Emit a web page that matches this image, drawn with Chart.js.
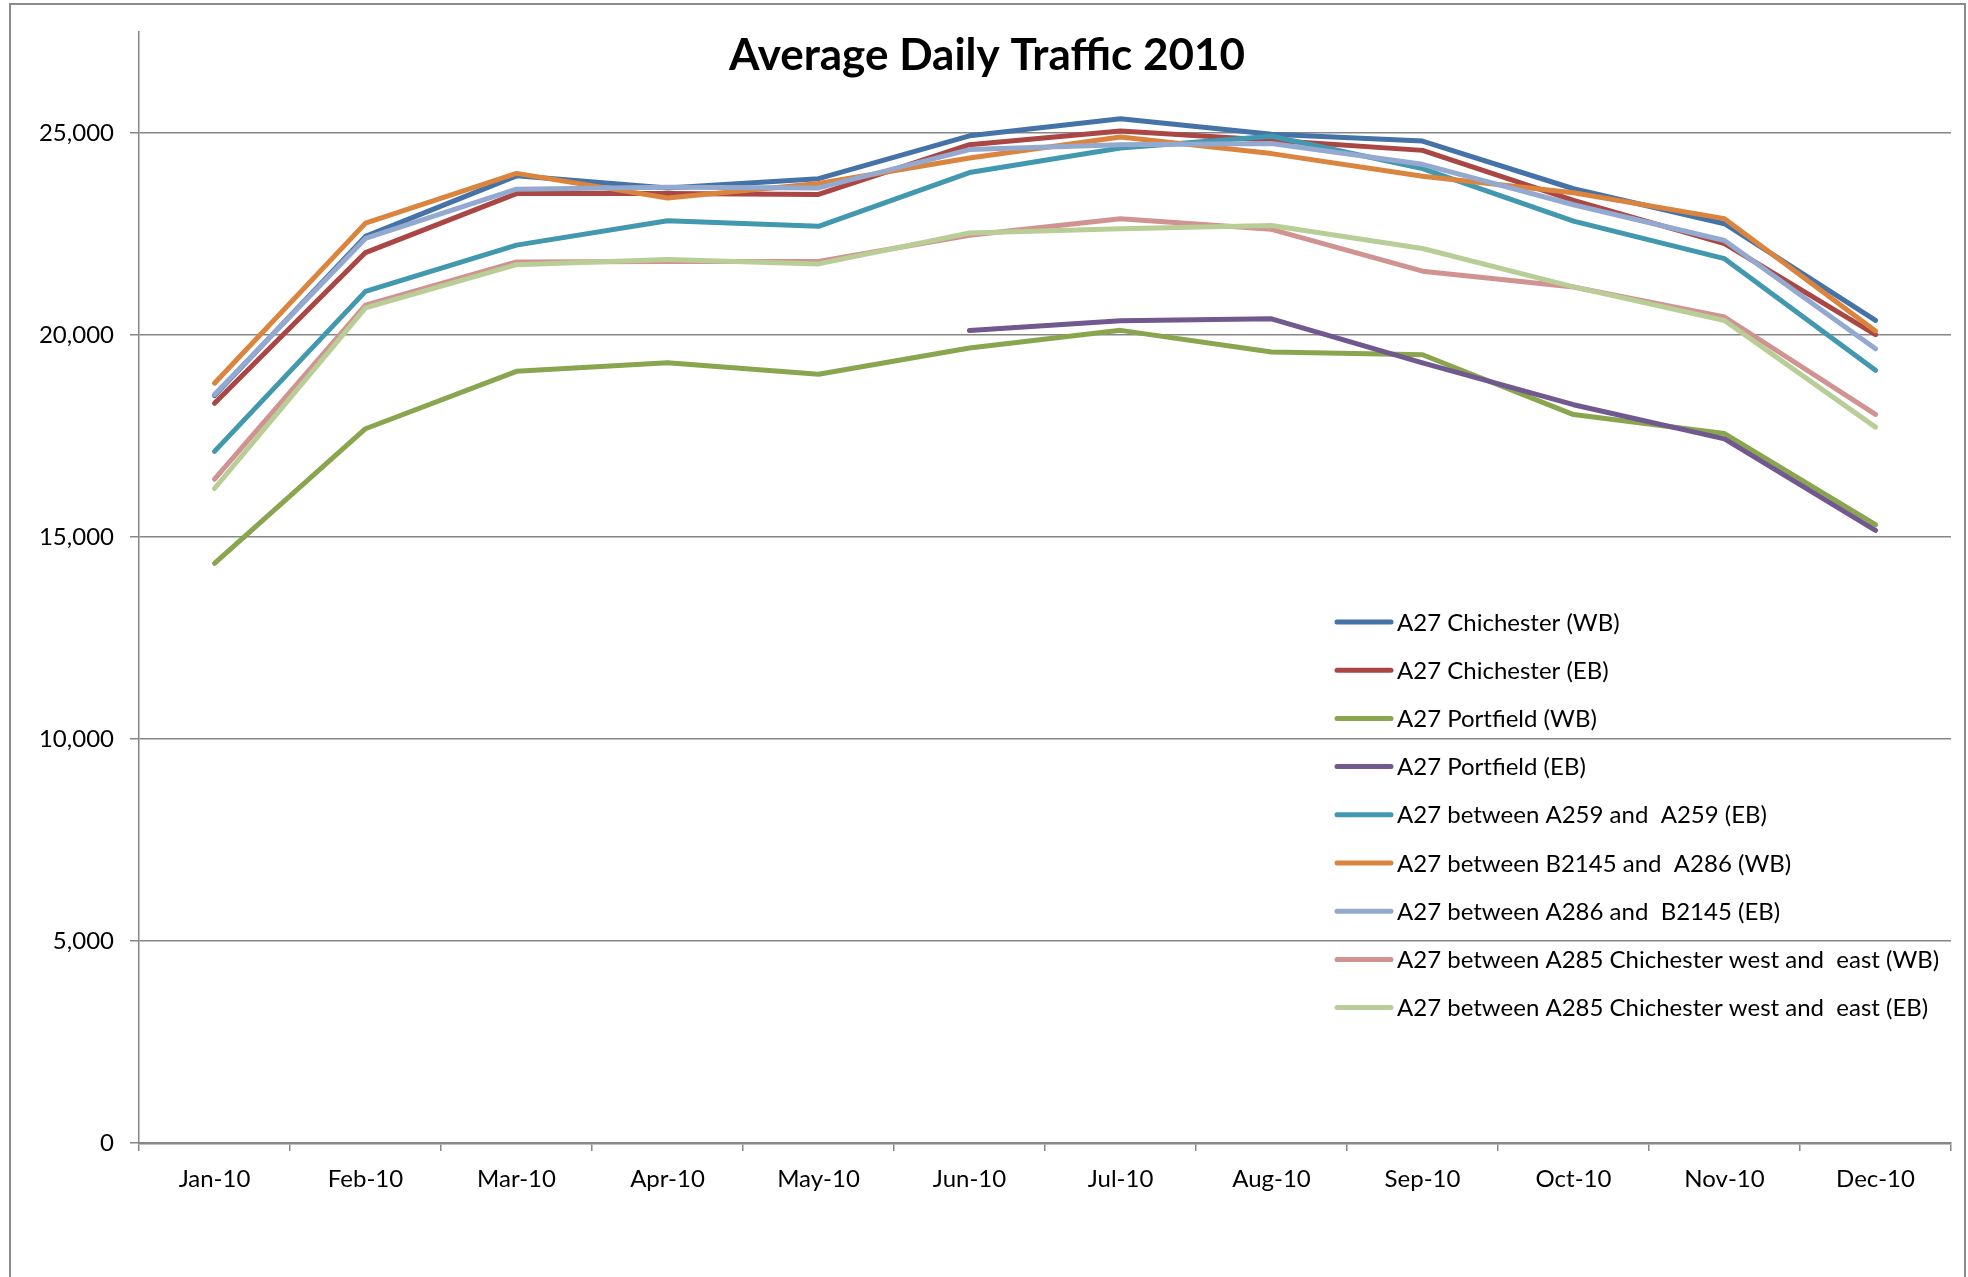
<!DOCTYPE html>
<html>
<head>
<meta charset="utf-8">
<script src="https://cdn.jsdelivr.net/npm/chart.js@4.4.0/dist/chart.umd.min.js"></script>
<style>
  html, body { margin: 0; padding: 0; background: #ffffff; }
  #wrap { width: 1968px; height: 1277px; position: relative; }
</style>
</head>
<body>
<div id="wrap"><canvas id="c" width="1968" height="1277"></canvas></div>
<script>
const chartTitle = 'Average Daily Traffic 2010';
const months = ['Jan-10','Feb-10','Mar-10','Apr-10','May-10','Jun-10','Jul-10','Aug-10','Sep-10','Oct-10','Nov-10','Dec-10'];
const yTicks = [0, 5000, 10000, 15000, 20000, 25000];

const seriesNames = [
  'A27 Chichester (WB)',
  'A27 Chichester (EB)',
  'A27 Portfield (WB)',
  'A27 Portfield (EB)',
  'A27 between A259 and  A259 (EB)',
  'A27 between B2145 and  A286 (WB)',
  'A27 between A286 and  B2145 (EB)',
  'A27 between A285 Chichester west and  east (WB)',
  'A27 between A285 Chichester west and  east (EB)'
];
const chichesterWB = [18500, 22440, 23940, 23640, 23870, 24930, 25355, 24970, 24800, 23620, 22755, 20360];
const chichesterEB = [18310, 22040, 23500, 23500, 23480, 24710, 25050, 24820, 24570, 23330, 22260, 20010];
const portfieldWB  = [14350, 17680, 19100, 19315, 19030, 19680, 20115, 19580, 19510, 18030, 17560, 15305];
const portfieldEB  = [null, null, null, null, null, 20110, 20355, 20400, 19310, 18275, 17430, 15165];
const a259EB       = [17120, 21080, 22225, 22830, 22690, 24020, 24630, 24920, 24120, 22820, 21890, 19125];
const b2145a286WB  = [18807, 22770, 24000, 23390, 23750, 24380, 24900, 24490, 23930, 23520, 22880, 20100];
const a286b2145EB  = [18530, 22390, 23610, 23660, 23640, 24590, 24710, 24740, 24225, 23225, 22340, 19660];
const a285WB       = [16430, 20740, 21810, 21820, 21820, 22470, 22880, 22615, 21580, 21190, 20445, 18035];
const a285EB       = [16200, 20670, 21740, 21870, 21760, 22525, 22630, 22710, 22140, 21190, 20360, 17720];

const seriesValues = [chichesterWB, chichesterEB, portfieldWB, portfieldEB, a259EB, b2145a286WB, a286b2145EB, a285WB, a285EB];
const seriesColors = ['#4572A7', '#AA4643', '#89A54E', '#71588F', '#4198AF', '#DB843D', '#93A9CF', '#D19392', '#B9CD96'];

const FONT = 'Lato, "Open Sans", "DejaVu Sans", sans-serif';
const GRID = '#868686';

const datasets = seriesNames.map((name, i) => ({
  label: name,
  data: seriesValues[i],
  borderColor: seriesColors[i],
  backgroundColor: seriesColors[i],
  borderWidth: 5,
  pointRadius: 0,
  pointHoverRadius: 0,
  tension: 0,
  fill: false,
  spanGaps: false,
  borderCapStyle: 'round',
  borderJoinStyle: 'round',
  order: seriesNames.length - 1 - i
}));

const framePlugin = {
  id: 'frame',
  beforeDraw(chart) {
    const ctx = chart.ctx;
    ctx.save();
    ctx.fillStyle = '#ffffff';
    ctx.fillRect(0, 0, chart.width, chart.height);
    ctx.strokeStyle = '#8c8c8c';
    ctx.lineWidth = 2;
    ctx.strokeRect(10, 4, 1955, 1400);
    ctx.restore();
  },
  afterDraw(chart) {
    const ctx = chart.ctx;
    ctx.save();
    // title
    ctx.fillStyle = '#000000';
    ctx.font = 'bold 44px ' + FONT;
    ctx.textAlign = 'center';
    ctx.textBaseline = 'alphabetic';
    ctx.fillText(chartTitle, 987, 70);
    // legend
    const x0 = 1337, x1 = 1391, tx = 1397, y0 = 622, dy = 48.2;
    ctx.font = '24px ' + FONT;
    ctx.textAlign = 'left';
    chart.data.datasets.forEach((ds, i) => {
      const y = y0 + i * dy;
      ctx.strokeStyle = ds.borderColor;
      ctx.lineWidth = 5;
      ctx.lineCap = 'round';
      ctx.beginPath();
      ctx.moveTo(x0, y);
      ctx.lineTo(x1, y);
      ctx.stroke();
      ctx.fillStyle = '#000000';
      ctx.fillText(ds.label, tx, y + 8.5);
    });
    ctx.restore();
  }
};

new Chart(document.getElementById('c'), {
  type: 'line',
  data: { labels: months, datasets },
  options: {
    responsive: false,
    animation: false,
    devicePixelRatio: 1,
    layout: { padding: { top: 32, right: 17, left: 0, bottom: 0 } },
    plugins: {
      legend: { display: false },
      title: { display: false },
      tooltip: { enabled: false }
    },
    scales: {
      x: {
        type: 'category',
        offset: true,
        grid: {
          offset: true,
          drawOnChartArea: false,
          drawTicks: true,
          tickLength: 8,
          color: GRID,
          lineWidth: 1.5
        },
        border: { display: true, color: GRID, width: 2.5 },
        ticks: {
          color: '#000000',
          font: { family: FONT, size: 24 },
          padding: 14,
          maxRotation: 0,
          autoSkip: false
        },
        afterFit(s) { s.height = 134; }
      },
      y: {
        min: 0,
        max: 27500,
        grid: {
          color: GRID,
          lineWidth: 1.5,
          tickLength: 9,
          drawTicks: true
        },
        border: { display: true, color: GRID, width: 1.5 },
        ticks: {
          color: '#000000',
          font: { family: FONT, size: 24 },
          padding: 16,
          stepSize: 5000,
          callback: (v) => Number(v).toLocaleString('en-US')
        },
        afterBuildTicks(s) { s.ticks = yTicks.map(v => ({ value: v })); },
        afterFit(s) { s.width = 139; }
      }
    }
  },
  plugins: [framePlugin]
});
</script>
</body>
</html>
